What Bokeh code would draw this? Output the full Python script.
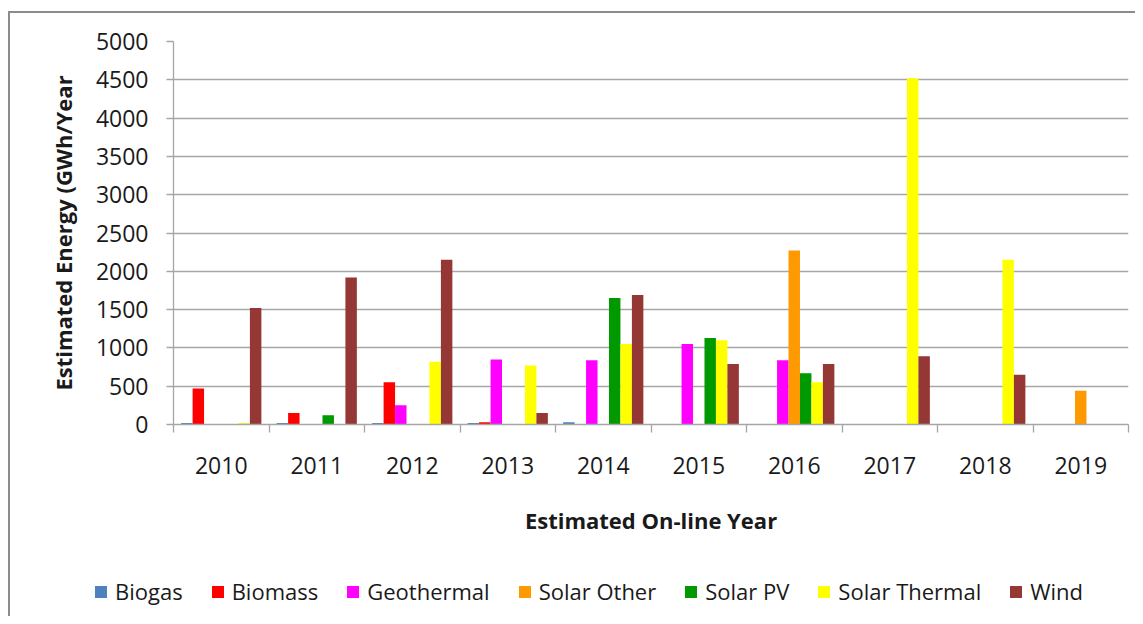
from bokeh.plotting import figure
from bokeh.layouts import column
from bokeh.models import ColumnDataSource, FixedTicker, Legend, LegendItem
from bokeh.transform import dodge
from bokeh.embed import file_html
from bokeh.resources import INLINE

years = [2010, 2011, 2012, 2013, 2014, 2015, 2016, 2017, 2018, 2019]
series = ["Biogas", "Biomass", "Geothermal", "Solar Other", "Solar PV", "Solar Thermal", "Wind"]
colors = ["#4F81BD", "#FF0000", "#FF00FF", "#FF9900", "#009900", "#FFFF00", "#953735"]

biogas        = [20, 20, 20, 20, 30, 0, 0, 0, 0, 0]
biomass       = [470, 150, 550, 30, 0, 0, 0, 0, 0, 0]
geothermal    = [0, 0, 250, 850, 840, 1050, 840, 0, 0, 0]
solar_other   = [0, 0, 0, 0, 0, 0, 2270, 0, 0, 440]
solar_pv      = [0, 120, 0, 0, 1650, 1130, 670, 0, 0, 0]
solar_thermal = [20, 0, 820, 770, 1050, 1100, 550, 4520, 2150, 0]
wind          = [1520, 1920, 2150, 150, 1690, 790, 790, 890, 650, 0]

y_ticks = [0, 500, 1000, 1500, 2000, 2500, 3000, 3500, 4000, 4500, 5000]

values = [biogas, biomass, geothermal, solar_other, solar_pv, solar_thermal, wind]
data = {"year": years}
for name, vals in zip(series, values):
    data[name] = vals
source = ColumnDataSource(data)

FONT = "Open Sans"
TXT = "#1a1a1a"
GRID = "#a6a6a6"

p = figure(width=1125, height=541, output_backend="svg", toolbar_location=None,
           x_range=(years[0] - 0.5, years[-1] + 0.5), y_range=(0, 5000),
           min_border_left=163, min_border_right=7, min_border_top=28, min_border_bottom=130,
           background_fill_color="white", border_fill_color="white")
p.outline_line_color = None
p.frame_align = False

bw = 0.12
for i, (name, col) in enumerate(zip(series, colors)):
    p.vbar(x=dodge("year", (i - 3) * bw, range=p.x_range), top=name, width=bw,
           source=source, fill_color=col, line_color=None)

# y axis
p.yaxis.ticker = FixedTicker(ticks=y_ticks)
p.yaxis.axis_line_color = GRID
p.yaxis.axis_line_width = 1.3
p.yaxis.major_tick_line_color = GRID
p.yaxis.major_tick_line_width = 1.3
p.yaxis.major_tick_out = 7
p.yaxis.major_tick_in = 0
p.yaxis.minor_tick_line_color = None
p.yaxis.major_label_text_font = FONT
p.yaxis.major_label_text_font_size = "23px"
p.yaxis.major_label_text_color = TXT
p.yaxis.major_label_standoff = 18
p.yaxis.axis_label = "Estimated Energy (GWh/Year"
p.yaxis.axis_label_text_font = FONT
p.yaxis.axis_label_text_font_style = "bold"
p.yaxis.axis_label_text_font_size = "22px"
p.yaxis.axis_label_text_color = TXT
p.yaxis.axis_label_standoff = 15

# x axis: labels at year centers, ticks on category boundaries
p.xaxis.ticker = FixedTicker(ticks=years, minor_ticks=[y - 0.5 for y in years] + [years[-1] + 0.5])
p.xaxis.major_tick_out = 0
p.xaxis.major_tick_in = 0
p.xaxis.minor_tick_out = 8
p.xaxis.minor_tick_in = 0
p.xaxis.minor_tick_line_color = GRID
p.xaxis.minor_tick_line_width = 1.3
p.xaxis.axis_line_color = GRID
p.xaxis.axis_line_width = 1.3
p.xaxis.major_label_text_font = FONT
p.xaxis.major_label_text_font_size = "23px"
p.xaxis.major_label_text_color = TXT
p.xaxis.major_label_standoff = 24
p.xaxis.axis_label = "Estimated On-line Year"
p.xaxis.axis_label_text_font = FONT
p.xaxis.axis_label_text_font_style = "bold"
p.xaxis.axis_label_text_font_size = "22px"
p.xaxis.axis_label_text_color = TXT
p.xaxis.axis_label_standoff = 28

p.xgrid.grid_line_color = None
p.ygrid.ticker = FixedTicker(ticks=y_ticks)
p.ygrid.grid_line_color = GRID
p.ygrid.grid_line_width = 1.3

# legend strip below the chart (its bars lie far outside the strip's visible ranges)
lf = figure(width=1125, height=62, output_backend="svg", toolbar_location=None,
            x_range=(0, 1), y_range=(-20, -10),
            x_axis_type=None, y_axis_type=None,
            min_border=0, background_fill_color="white", border_fill_color="white")
lf.outline_line_color = None
lf.grid.visible = False
lf.frame_align = False
items = []
for i, (name, col) in enumerate(zip(series, colors)):
    r = lf.vbar(x=dodge("year", (i - 3) * bw, range=lf.x_range), top=name, width=bw,
                source=source, fill_color=col, line_color=None)
    items.append(LegendItem(label=name, renderers=[r]))
legend = Legend(items=items, orientation="horizontal", location=(83, 10),
                glyph_width=15, glyph_height=15, label_standoff=7, spacing=27,
                padding=0, margin=0, border_line_color=None, background_fill_alpha=0,
                label_text_font=FONT, label_text_font_size="22px", label_text_color=TXT)
lf.add_layout(legend, "center")

layout = column(p, lf, spacing=0)
layout.styles = {"border-left": "2px solid #8c8c8c", "border-top": "2px solid #8c8c8c",
                 "margin-top": "11px", "margin-left": "8px"}

open("out.html", "w").write(file_html(layout, INLINE))
